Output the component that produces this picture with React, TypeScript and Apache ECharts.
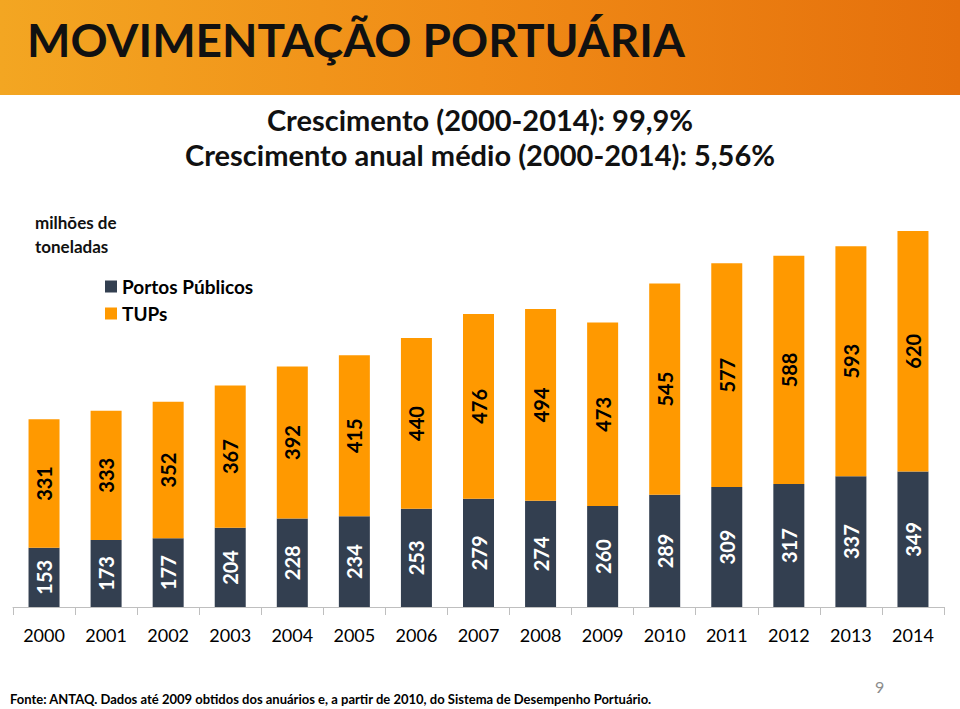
import React, { useEffect, useRef } from "react";
import * as echarts from "echarts";

const years = ["2000","2001","2002","2003","2004","2005","2006","2007","2008","2009","2010","2011","2012","2013","2014"];
const portosPublicos = [153,173,177,204,228,234,253,279,274,260,289,309,317,337,349];
const tups = [331,333,352,367,392,415,440,476,494,473,545,577,588,593,620];

const titleText = "MOVIMENTAÇÃO PORTUÁRIA";
const subtitle1 = "Crescimento (2000-2014): 99,9%";
const subtitle2 = "Crescimento anual médio (2000-2014): 5,56%";
const unitText = "milhões de\ntoneladas";
const sourceText = "Fonte: ANTAQ. Dados até 2009 obtidos dos anuários e, a partir de 2010, do Sistema de Desempenho Portuário.";
const pageNumber = "9";

const FONT = "Lato, 'Open Sans', sans-serif";

export default function App() {
  const ref = useRef<HTMLDivElement>(null);
  useEffect(() => {
    document.body.style.margin = "0";
    const chart = echarts.init(ref.current!, undefined, { renderer: "svg" });
    chart.setOption({
      animation: false,
      backgroundColor: "#ffffff",
      textStyle: { fontFamily: FONT },
      legend: {
        orient: "vertical",
        left: 100,
        top: 272,
        itemWidth: 12,
        itemHeight: 12,
        itemGap: 8,
        icon: "rect",
        data: ["Portos Públicos", "TUPs"],
        textStyle: { fontFamily: FONT, fontSize: 19, fontWeight: "bold", color: "#000" },
      },
      grid: { left: 13, right: 16, top: 219, bottom: 102 },
      xAxis: {
        type: "category",
        data: years,
        axisLine: { lineStyle: { color: "#BFBFBF", width: 1 } },
        axisTick: { show: true, length: 8, lineStyle: { color: "#BFBFBF" } },
        axisLabel: { margin: 19, fontSize: 18, color: "#000", fontFamily: FONT },
      },
      yAxis: { type: "value", min: 0, max: 1000, show: false, splitLine: { show: false } },
      series: [
        {
          name: "Portos Públicos",
          type: "bar",
          stack: "total",
          data: portosPublicos,
          barWidth: 31,
          itemStyle: { color: "#333F50" },
          label: {
            show: true,
            position: "inside",
            rotate: 90,
            fontSize: 20,
            fontWeight: "bold",
            color: "#ffffff",
            fontFamily: FONT,
          },
        },
        {
          name: "TUPs",
          type: "bar",
          stack: "total",
          data: tups,
          barWidth: 31,
          itemStyle: { color: "#FF9900" },
          label: {
            show: true,
            position: "inside",
            rotate: 90,
            fontSize: 20,
            fontWeight: "bold",
            color: "#000000",
            fontFamily: FONT,
          },
        },
      ],
      graphic: [
        {
          type: "rect",
          left: 0,
          top: 0,
          shape: { width: 960, height: 95 },
          style: {
            fill: new echarts.graphic.LinearGradient(0, 0, 1, 0, [
              { offset: 0, color: "#F3A622" },
              { offset: 0.5, color: "#F08B16" },
              { offset: 1, color: "#E5700C" },
            ]),
          },
          z: 0,
        },
        {
          type: "text",
          left: 27,
          top: 16,
          style: { text: titleText, font: `bold 46px ${FONT}`, fill: "#111111" },
          z: 10,
        },
        {
          type: "text",
          left: "center",
          top: 105,
          style: { text: subtitle1, font: `bold 29px ${FONT}`, fill: "#111111" },
        },
        {
          type: "text",
          left: "center",
          top: 140,
          style: { text: subtitle2, font: `bold 29px ${FONT}`, fill: "#111111" },
        },
        {
          type: "text",
          left: 35,
          top: 210,
          style: { text: unitText, font: `bold 17px ${FONT}`, fill: "#111111", lineHeight: 24 },
        },
        {
          type: "text",
          left: 10,
          top: 692,
          style: { text: sourceText, font: `bold 13px ${FONT}`, fill: "#000000" },
        },
        {
          type: "text",
          left: 875,
          top: 678,
          style: { text: pageNumber, font: `16px ${FONT}`, fill: "#8C8C8C" },
        },
      ],
    });
    return () => chart.dispose();
  }, []);
  return <div ref={ref} style={{ width: 960, height: 709, position: "absolute", left: 0, top: 0 }} />;
}
